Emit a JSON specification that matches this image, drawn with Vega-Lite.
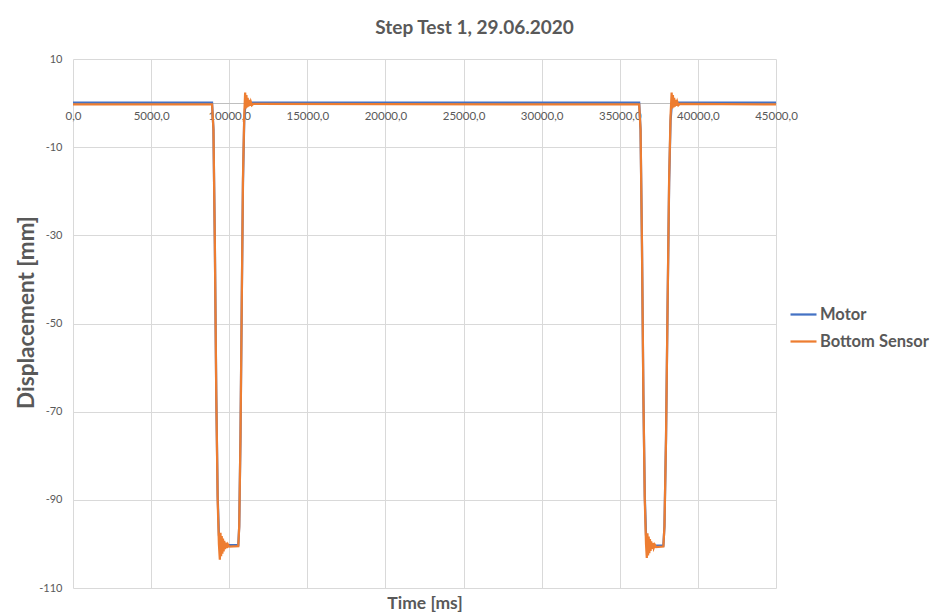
{
  "$schema": "https://vega.github.io/schema/vega-lite/v6.json",
  "width": 703,
  "height": 529,
  "autosize": {"type": "none"},
  "padding": {"left": 73, "top": 59, "right": 163, "bottom": 27},
  "background": "white",
  "title": {
    "text": "Step Test 1, 29.06.2020",
    "font": "Lato",
    "fontSize": 19,
    "fontWeight": "bold",
    "color": "#595959",
    "anchor": "middle",
    "frame": "group",
    "dx": 50,
    "offset": 15
  },
  "data": {
    "values": [
      {"t": 0, "series": "Motor", "v": 0.1},
      {"t": 8900, "series": "Motor", "v": 0.1},
      {"t": 8990, "series": "Motor", "v": -6},
      {"t": 9080, "series": "Motor", "v": -32},
      {"t": 9170, "series": "Motor", "v": -66},
      {"t": 9260, "series": "Motor", "v": -89},
      {"t": 9340, "series": "Motor", "v": -98},
      {"t": 9420, "series": "Motor", "v": -100.3},
      {"t": 10580, "series": "Motor", "v": -100.3},
      {"t": 10640, "series": "Motor", "v": -96},
      {"t": 10720, "series": "Motor", "v": -76},
      {"t": 10800, "series": "Motor", "v": -46},
      {"t": 10880, "series": "Motor", "v": -18},
      {"t": 10960, "series": "Motor", "v": -4},
      {"t": 11040, "series": "Motor", "v": 0.1},
      {"t": 36240, "series": "Motor", "v": 0.1},
      {"t": 36330, "series": "Motor", "v": -6},
      {"t": 36420, "series": "Motor", "v": -32},
      {"t": 36510, "series": "Motor", "v": -66},
      {"t": 36600, "series": "Motor", "v": -89},
      {"t": 36680, "series": "Motor", "v": -98},
      {"t": 36760, "series": "Motor", "v": -100.4},
      {"t": 37790, "series": "Motor", "v": -100.4},
      {"t": 37860, "series": "Motor", "v": -96},
      {"t": 37960, "series": "Motor", "v": -76},
      {"t": 38060, "series": "Motor", "v": -46},
      {"t": 38160, "series": "Motor", "v": -18},
      {"t": 38250, "series": "Motor", "v": -4},
      {"t": 38340, "series": "Motor", "v": 0.1},
      {"t": 45000, "series": "Motor", "v": 0.1},

      {"t": 0, "series": "Bottom Sensor", "v": -0.3},
      {"t": 8900, "series": "Bottom Sensor", "v": -0.3},
      {"t": 8990, "series": "Bottom Sensor", "v": -6},
      {"t": 9080, "series": "Bottom Sensor", "v": -32},
      {"t": 9170, "series": "Bottom Sensor", "v": -66},
      {"t": 9260, "series": "Bottom Sensor", "v": -90},
      {"t": 9340, "series": "Bottom Sensor", "v": -100},
      {"t": 9400, "series": "Bottom Sensor", "v": -103.6},
      {"t": 9440, "series": "Bottom Sensor", "v": -97.5},
      {"t": 9480, "series": "Bottom Sensor", "v": -102.8},
      {"t": 9520, "series": "Bottom Sensor", "v": -98.2},
      {"t": 9560, "series": "Bottom Sensor", "v": -102.2},
      {"t": 9600, "series": "Bottom Sensor", "v": -98.8},
      {"t": 9640, "series": "Bottom Sensor", "v": -101.7},
      {"t": 9680, "series": "Bottom Sensor", "v": -99.3},
      {"t": 9730, "series": "Bottom Sensor", "v": -101.2},
      {"t": 9780, "series": "Bottom Sensor", "v": -99.7},
      {"t": 9840, "series": "Bottom Sensor", "v": -100.9},
      {"t": 9910, "series": "Bottom Sensor", "v": -100.1},
      {"t": 9990, "series": "Bottom Sensor", "v": -100.6},
      {"t": 10580, "series": "Bottom Sensor", "v": -100.5},
      {"t": 10640, "series": "Bottom Sensor", "v": -96},
      {"t": 10720, "series": "Bottom Sensor", "v": -76},
      {"t": 10800, "series": "Bottom Sensor", "v": -46},
      {"t": 10880, "series": "Bottom Sensor", "v": -17},
      {"t": 10960, "series": "Bottom Sensor", "v": -3},
      {"t": 11020, "series": "Bottom Sensor", "v": 2.4},
      {"t": 11060, "series": "Bottom Sensor", "v": -1.2},
      {"t": 11100, "series": "Bottom Sensor", "v": 1.8},
      {"t": 11140, "series": "Bottom Sensor", "v": -1.0},
      {"t": 11180, "series": "Bottom Sensor", "v": 1.2},
      {"t": 11220, "series": "Bottom Sensor", "v": -0.8},
      {"t": 11270, "series": "Bottom Sensor", "v": 0.7},
      {"t": 11320, "series": "Bottom Sensor", "v": -0.6},
      {"t": 11380, "series": "Bottom Sensor", "v": 0.3},
      {"t": 11450, "series": "Bottom Sensor", "v": -0.5},
      {"t": 11540, "series": "Bottom Sensor", "v": -0.2},
      {"t": 36240, "series": "Bottom Sensor", "v": -0.3},
      {"t": 36330, "series": "Bottom Sensor", "v": -6},
      {"t": 36420, "series": "Bottom Sensor", "v": -32},
      {"t": 36510, "series": "Bottom Sensor", "v": -66},
      {"t": 36600, "series": "Bottom Sensor", "v": -90},
      {"t": 36680, "series": "Bottom Sensor", "v": -100},
      {"t": 36730, "series": "Bottom Sensor", "v": -103.2},
      {"t": 36770, "series": "Bottom Sensor", "v": -97.6},
      {"t": 36810, "series": "Bottom Sensor", "v": -102.6},
      {"t": 36850, "series": "Bottom Sensor", "v": -98.3},
      {"t": 36890, "series": "Bottom Sensor", "v": -102.1},
      {"t": 36930, "series": "Bottom Sensor", "v": -98.9},
      {"t": 36970, "series": "Bottom Sensor", "v": -101.6},
      {"t": 37010, "series": "Bottom Sensor", "v": -99.4},
      {"t": 37060, "series": "Bottom Sensor", "v": -101.1},
      {"t": 37110, "series": "Bottom Sensor", "v": -99.8},
      {"t": 37170, "series": "Bottom Sensor", "v": -100.9},
      {"t": 37240, "series": "Bottom Sensor", "v": -100.2},
      {"t": 37320, "series": "Bottom Sensor", "v": -100.7},
      {"t": 37790, "series": "Bottom Sensor", "v": -100.6},
      {"t": 37860, "series": "Bottom Sensor", "v": -96},
      {"t": 37960, "series": "Bottom Sensor", "v": -76},
      {"t": 38060, "series": "Bottom Sensor", "v": -46},
      {"t": 38160, "series": "Bottom Sensor", "v": -17},
      {"t": 38250, "series": "Bottom Sensor", "v": -3},
      {"t": 38320, "series": "Bottom Sensor", "v": 2.4},
      {"t": 38360, "series": "Bottom Sensor", "v": -1.2},
      {"t": 38400, "series": "Bottom Sensor", "v": 1.8},
      {"t": 38440, "series": "Bottom Sensor", "v": -1.0},
      {"t": 38480, "series": "Bottom Sensor", "v": 1.2},
      {"t": 38520, "series": "Bottom Sensor", "v": -0.8},
      {"t": 38570, "series": "Bottom Sensor", "v": 0.7},
      {"t": 38620, "series": "Bottom Sensor", "v": -0.6},
      {"t": 38680, "series": "Bottom Sensor", "v": 0.3},
      {"t": 38750, "series": "Bottom Sensor", "v": -0.5},
      {"t": 38840, "series": "Bottom Sensor", "v": -0.2},
      {"t": 45000, "series": "Bottom Sensor", "v": -0.3}
    ]
  },
  "encoding": {
    "x": {
      "field": "t",
      "type": "quantitative",
      "scale": {"domain": [0, 45000], "nice": false, "zero": false},
      "axis": {
        "orient": "bottom",
        "offset": -485,
        "values": [0, 5000, 10000, 15000, 20000, 25000, 30000, 35000, 40000, 45000],
        "labelExpr": "replace(format(datum.value, '.1f'), '.', ',')",
        "labelFont": "Lato",
        "labelFontSize": 11.5,
        "labelColor": "#595959",
        "labelPadding": 7,
        "labelFlush": false,
        "labelBound": false,
        "labelOverlap": false,
        "ticks": false,
        "domain": true,
        "domainColor": "#BFBFBF",
        "domainWidth": 1,
        "grid": true,
        "gridColor": "#D9D9D9",
        "gridWidth": 1,
        "title": "Time [ms]",
        "titleFont": "Lato",
        "titleFontSize": 17.5,
        "titleFontWeight": "bold",
        "titleColor": "#595959",
        "titleY": 500,
        "titleBaseline": "middle"
      }
    },
    "y": {
      "field": "v",
      "type": "quantitative",
      "scale": {"domain": [-110, 10], "nice": false, "zero": false},
      "axis": {
        "values": [10, -10, -30, -50, -70, -90, -110],
        "labelExpr": "'' + datum.value",
        "labelFont": "Lato",
        "labelFontSize": 11,
        "labelColor": "#595959",
        "labelPadding": 11,
        "ticks": false,
        "domain": false,
        "grid": true,
        "gridColor": "#D9D9D9",
        "gridWidth": 1,
        "title": "Displacement [mm]",
        "titleFont": "Lato",
        "titleFontSize": 22.5,
        "titleFontWeight": "bold",
        "titleColor": "#595959",
        "titlePadding": 0,
        "titleY": 253
      }
    },
    "color": {
      "field": "series",
      "type": "nominal",
      "scale": {"domain": ["Motor", "Bottom Sensor"], "range": ["#4472C4", "#ED7D31"]},
      "legend": {
        "title": null,
        "orient": "none",
        "legendX": 716,
        "legendY": 241,
        "symbolType": "stroke",
        "symbolSize": 676,
        "symbolStrokeWidth": 2.25,
        "labelFont": "Lato",
        "labelFontSize": 16.5,
        "labelFontWeight": "bold",
        "labelColor": "#595959",
        "labelOffset": 2,
        "rowPadding": 4
      }
    }
  },
  "layer": [
    {
      "transform": [{"filter": "datum.series === 'Motor'"}],
      "mark": {"type": "line", "strokeWidth": 2.25}
    },
    {
      "transform": [{"filter": "datum.series === 'Bottom Sensor'"}],
      "mark": {"type": "line", "strokeWidth": 2.25}
    }
  ],
  "config": {
    "view": {"stroke": null}
  }
}
